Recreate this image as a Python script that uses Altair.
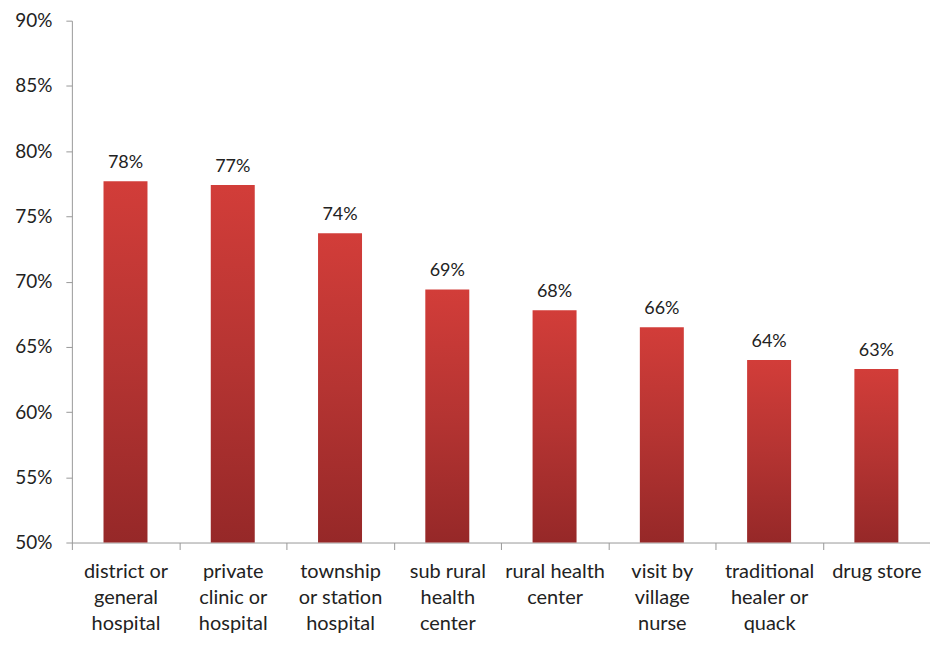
import altair as alt
import pandas as pd

categories = [
    "district or\ngeneral\nhospital",
    "private\nclinic or\nhospital",
    "township\nor station\nhospital",
    "sub rural\nhealth\ncenter",
    "rural health\ncenter",
    "visit by\nvillage\nnurse",
    "traditional\nhealer or\nquack",
    "drug store",
]
values = [0.777, 0.774, 0.737, 0.694, 0.678, 0.665, 0.640, 0.633]
labels = ["78%", "77%", "74%", "69%", "68%", "66%", "64%", "63%"]
baseline = 0.5

df = pd.DataFrame({"category": categories, "value": values, "label": labels})

FONT = "Lato"

x = alt.X(
    "category:N",
    sort=categories,
    title=None,
    scale=alt.Scale(paddingInner=0, paddingOuter=0),
    axis=alt.Axis(
        labelAngle=0,
        labelExpr="split(datum.label, '\\n')",
        labelFontSize=20,
        labelLineHeight=26,
        labelColor="#222222",
        labelFont=FONT,
        labelPadding=12,
        labelBaseline="top",
        tickBand="extent",
        tickSize=7,
        tickColor="#999999",
        domainColor="#999999",
        labelLimit=200,
    ),
)

y = alt.Y(
    "value:Q",
    title=None,
    scale=alt.Scale(domain=[0.5, 0.9], nice=False, zero=False),
    axis=alt.Axis(
        values=[0.5, 0.55, 0.6, 0.65, 0.7, 0.75, 0.8, 0.85, 0.9],
        format=".0%",
        grid=False,
        labelFontSize=19,
        labelColor="#222222",
        labelFont=FONT,
        labelPadding=14,
        tickSize=6,
        tickColor="#999999",
        domainColor="#999999",
    ),
)

base = alt.Chart(df).encode(x=x, y=y)

bars = base.mark_bar(
    width=alt.RelativeBandSize(0.41),
    color=alt.Gradient(
        gradient="linear",
        stops=[
            alt.GradientStop(color="#d23d39", offset=0),
            alt.GradientStop(color="#b53432", offset=0.5),
            alt.GradientStop(color="#962828", offset=1),
        ],
        x1=0, x2=0, y1=0, y2=1,
    ),
).encode(y2=alt.datum(baseline))

text = base.mark_text(
    baseline="bottom", dy=-9, fontSize=18, font=FONT, color="#222222"
).encode(text="label:N")

chart = (
    alt.layer(bars, text)
    .properties(
        width=860,
        height=523,
        autosize=alt.AutoSizeParams(type="none"),
        padding={"left": 64, "top": 12, "right": 0, "bottom": 100},
    )
    .configure(background="white")
    .configure_view(strokeWidth=0, stroke="transparent")
)

chart.save("out.html", embed_options={"renderer": "svg", "actions": False})
